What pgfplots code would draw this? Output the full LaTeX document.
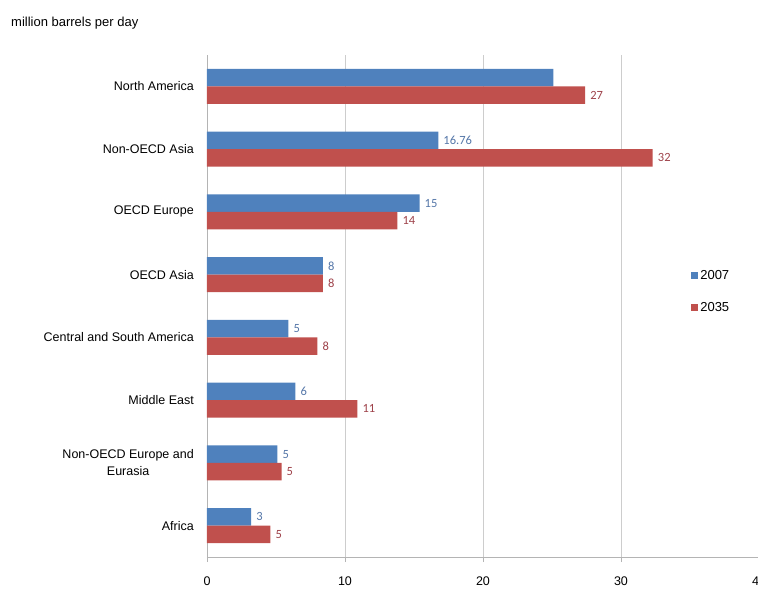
\documentclass[border=0pt]{standalone}
\usepackage{pgfplots}
\pgfplotsset{compat=1.18}
\usepackage{pgfplotstable}
\usepackage{fontspec}
\setmainfont{Liberation Sans}
\newfontfamily\lblfont{Carlito}

\definecolor{bar07}{RGB}{79,129,189}
\definecolor{bar35}{RGB}{192,80,77}
\definecolor{lab07}{RGB}{84,118,168}
\definecolor{lab35}{RGB}{158,66,74}
\definecolor{gridc}{RGB}{205,205,205}
\definecolor{axisc}{RGB}{180,180,180}

% 2007, categories from Africa (0) up to North America (7)
\pgfplotstableread[col sep=comma]{
val,pos,lab
25.1,7,{}
16.76,6,16.76
15.4,5,15
8.4,4,8
5.9,3,5
6.4,2,6
5.1,1,5
3.2,0,3
}\tabA

% 2035
\pgfplotstableread[col sep=comma]{
val,pos,lab
27.4,7,27
32.3,6,32
13.8,5,14
8.4,4,8
8.0,3,8
10.9,2,11
5.4,1,5
4.6,0,5
}\tabB

\begin{document}
\begin{tikzpicture}
\useasboundingbox (0,0) rectangle (758pt,590pt);
\node[anchor=west, inner sep=0pt, font=\fontsize{13}{15}\selectfont] at (11pt,567pt) {million barrels per day};
\begin{axis}[
    at={(207pt,33pt)}, anchor=south west,
    scale only axis, width=552pt, height=502pt,
    xbar, bar width=17.5pt,
    xmin=0, xmax=40, ymin=-0.5, ymax=7.5,
    xtick={0,10,20,30,40},
    ytick={0,...,7},
    yticklabels={Africa,{Non-OECD Europe and\\Eurasia},Middle East,Central and South America,OECD Asia,OECD Europe,Non-OECD Asia,North America},
    axis x line*=bottom, axis y line*=left,
    axis line style={draw=axisc, line width=0.9pt, -},
    xmajorgrids, grid style={draw=gridc, line width=0.8pt},
    tick align=outside, major tick length=5pt,
    xtick style={draw=axisc, line width=0.8pt},
    ytick style={draw=none},
    /pgf/number format/assume math mode=true,
    x tick label style={font=\fontsize{12.5}{15}\selectfont, inner sep=0pt, yshift=-15pt},
    y tick label style={font=\fontsize{12.5}{17}\selectfont, inner sep=0pt, align=center, xshift=-8pt},
    point meta=explicit symbolic,
    nodes near coords,
    nodes near coords style={anchor=west, font=\lblfont\fontsize{12.5}{14}\selectfont, inner sep=2pt, xshift=3pt},
    legend style={at={(0.877,0.529)}, anchor=west, draw=none, fill=none, inner sep=0pt,
        row sep=17pt, font=\fontsize{13}{15}\selectfont,
        /tikz/every even column/.append style={column sep=0pt}},
    legend cell align=left,
    every axis plot/.append style={draw=none,
        legend image code/.code={\fill[##1] (0pt,-3.5pt) rectangle (7pt,3.5pt);}},
]
\addplot[fill=bar07, bar shift=8.75pt, every node near coord/.append style={text=lab07}]
    table[x=val, y=pos, meta=lab] {\tabA};
\addlegendentry{2007}
\addplot[fill=bar35, bar shift=-8.75pt, every node near coord/.append style={text=lab35}]
    table[x=val, y=pos, meta=lab] {\tabB};
\addlegendentry{2035}
\end{axis}
\end{tikzpicture}
\end{document}
